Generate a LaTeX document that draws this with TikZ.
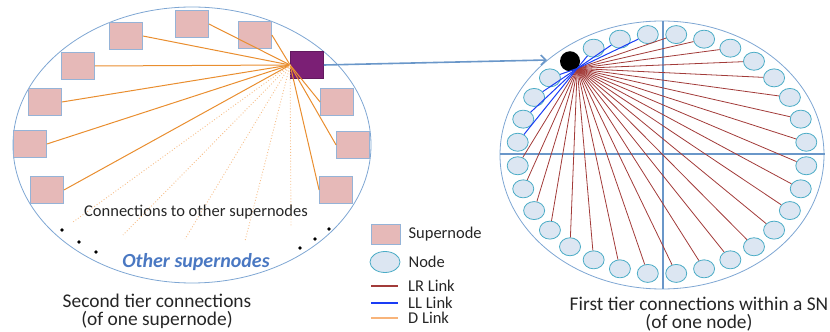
\documentclass[tikz,border=0pt]{standalone}
\usepackage{fontspec}
\setmainfont{Carlito}
\usetikzlibrary{arrows.meta,positioning,calc,shapes.geometric}

\definecolor{snfill}{HTML}{E6B9B8}
\definecolor{snedge}{HTML}{95B3D7}
\definecolor{hubfill}{HTML}{7B1F75}
\definecolor{rimblue}{HTML}{7EA6D3}
\definecolor{axisblue}{HTML}{6A97C9}
\definecolor{dorange}{HTML}{E98E2F}
\definecolor{dotorange}{HTML}{F6BE8A}
\definecolor{lrred}{HTML}{A23B39}
\definecolor{llblue}{HTML}{1A3CF5}
\definecolor{ndfill}{HTML}{DCE6F2}
\definecolor{ndedge}{HTML}{4BACC6}
\definecolor{otherblue}{HTML}{4A78C2}
\definecolor{legorange}{HTML}{F8B47A}

\begin{document}
\begin{tikzpicture}[x=1pt,y=1pt,
  supernode/.style={draw=snedge,fill=snfill,line width=0.8pt,minimum width=33pt,minimum height=27pt,inner sep=0pt},
  member/.style={ellipse,draw=ndedge,fill=ndfill,line width=0.8pt,minimum width=21pt,minimum height=18pt,inner sep=0pt},
  dlink/.style={draw=dorange,line width=1pt},
  dotlink/.style={draw=dotorange,line width=0.9pt,dotted},
  lrlink/.style={draw=lrred,line width=0.8pt},
  lllink/.style={draw=llblue,line width=1pt},
  legtext/.style={inner sep=0pt,text=black!85,font=\fontsize{16.5}{18}\selectfont},
  caption/.style={inner sep=0pt,align=center,text=black!85,font=\fontsize{19.4}{18}\selectfont}]
  \useasboundingbox (0,0) rectangle (830,332); % 図全体の大きさ

  % ---- 左側：上位層（スーパーノード間）の接続 ----
  \draw[rimblue,line width=0.8pt] (192,187) ellipse [x radius=179,y radius=138]; % 外周の楕円
  \node[supernode] (s1) at (126,296) {};
  \node[supernode] (s2) at (192,308) {};
  \node[supernode] (s3) at (255,297) {};
  \node[supernode,fill=hubfill,draw=hubfill!80!black] (hub) at (307,267) {}; % 注目するスーパーノード
  \node[supernode] (s4) at (78,266) {};
  \node[supernode] (s5) at (45,230) {};
  \node[supernode] (s6) at (30,188) {};
  \node[supernode] (s7) at (47,142) {};
  \node[supernode] (s8) at (337,230) {};
  \node[supernode] (s9) at (353,187) {};
  \node[supernode] (s10) at (336,142) {};
  \foreach \i in {1,...,7}
    \draw[dlink] (hub.west) -- (s\i.east); % 左側・上側へのDリンク
  \foreach \i in {8,9,10}
    \draw[dlink] (hub.west) -- (s\i.west); % 右側へのDリンク
  \coordinate (o1) at (73,110);
  \coordinate (o2) at (123,97);
  \coordinate (o3) at (185,93);
  \coordinate (o4) at (245,91);
  \coordinate (o5) at (291,105);
  \foreach \i in {1,...,5}
    \draw[dotlink] (hub.west) -- (o\i); % 図にない他のスーパーノードへの接続
  \foreach \p in {(62,102),(79,90),(96,80),(300,84),(315,93),(329,103)}
    \fill \p circle (1.8); % 省略を表す点
  \node[legtext] (conn) at (196,120) {Connections to other supernodes};
  \node[legtext,text=otherblue,font=\fontsize{20}{22}\selectfont\bfseries\itshape] (other) at (196,70) {Other supernodes};
  \node[caption] (cap2) at (157,21) {Second tier connections\\(of one supernode)};

  % ---- 右側：下位層（スーパーノード内）の接続 ----
  \draw[rimblue,line width=0.8pt] (662,177) ellipse [x radius=162,y radius=134]; % 外周の楕円
  \draw[axisblue,line width=2pt] (500,178) -- (825,178); % 横の区切り線
  \draw[axisblue,line width=2pt] (663,311) -- (663,43); % 縦の区切り線
  \foreach \k in {0,...,31}{
    \ifnum\k=11\relax\else
      \node[member] (n\k) at ({662+145*cos(5.625+11.25*\k)},{178+120*sin(5.625+11.25*\k)}) {};
    \fi
  }
  \node[circle,fill=black,minimum size=20pt,inner sep=0pt] (dot)
    at ({662+145*cos(129.375)},{178+120*sin(129.375)}) {}; % 注目するノード
  \foreach \k in {0,...,7}
    \draw[lrlink] (dot.south east) -- (n\k); % 右上へのLRリンク
  \foreach \k in {16,...,31}
    \draw[lrlink] (dot.south east) -- (n\k); % 下半分へのLRリンク
  \foreach \k in {8,9,10,12,13,14,15}
    \draw[lllink] (dot.south east) -- (n\k); % LLリンク
  \node[caption,anchor=south] (cap1) at (699,1) {First tier connections within a SN\\(of one node)};

  % ---- 二つの層をつなぐ矢印 ----
  \coordinate (tip) at (547,272);
  \draw[axisblue,line width=1.6pt,-{Straight Barb[length=5pt,width=10pt]}] (hub.east) -- (tip);

  % ---- 凡例 ----
  \node[supernode,minimum width=29pt,minimum height=20pt] (lsn) at (385.5,98) {};
  \node[member,minimum width=30pt,minimum height=21pt] (lnd) at (385,70) {};
  \coordinate (lr1) at (371,46); \coordinate (lr2) at (398,46);
  \coordinate (ll1) at (371,29); \coordinate (ll2) at (398,29);
  \coordinate (ld1) at (371,14); \coordinate (ld2) at (398,14);
  \draw[lrlink,line width=2pt] (lr1) -- (lr2);
  \draw[lllink,line width=2pt] (ll1) -- (ll2);
  \draw[draw=legorange,line width=2pt] (ld1) -- (ld2);
  \node[legtext,right=8pt of lsn] (tsn) {Supernode};
  \node[legtext,right=8pt of lnd] (tnd) {Node};
  \node[legtext,right=10pt of lr2] (tlr) {LR Link};
  \node[legtext,right=10pt of ll2] (tll) {LL Link};
  \node[legtext,right=10pt of ld2] (tld) {D Link};
\end{tikzpicture}
\end{document}
